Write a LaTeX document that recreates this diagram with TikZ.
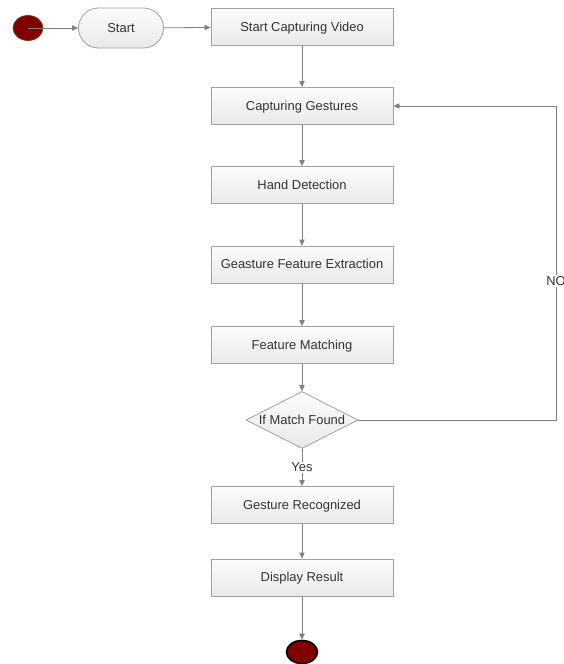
\documentclass[tikz,border=0pt]{standalone}
\usepackage{fontspec}
\setmainfont{Liberation Sans}
\usetikzlibrary{shapes.geometric,shapes.misc,arrows.meta}
\definecolor{boxedge}{HTML}{A0A0A0}
\definecolor{boxtop}{HTML}{FCFCFC}
\definecolor{boxbot}{HTML}{E9E9E9}
\definecolor{linegray}{HTML}{808080}
\definecolor{dot}{HTML}{800000}
\definecolor{txt}{HTML}{333333}
\tikzset{
  stepbox/.style={draw=boxedge, line width=0.6pt, top color=boxtop, bottom color=boxbot,
    minimum width=182*0.75pt, minimum height=37*0.75pt, inner sep=0pt,
    text height=7pt, text depth=1pt,
    font=\fontsize{9.7}{11}\selectfont, text=txt},
  termbox/.style={stepbox, rounded rectangle, minimum width=85*0.75pt, minimum height=40*0.75pt},
  decide/.style={draw=boxedge, line width=0.6pt, top color=boxtop, bottom color=boxbot,
    diamond, aspect=1.95, minimum width=112*0.75pt, minimum height=57*0.75pt, inner sep=0pt,
    text height=7pt, text depth=1pt,
    font=\fontsize{9.7}{11}\selectfont, text=txt},
  flow/.style={draw=linegray, line width=0.6pt, -{Triangle[length=4.5pt,width=4pt]}},
  lbl/.style={font=\fontsize{9.7}{11}\selectfont, text=txt, fill=white, inner sep=1pt}
}
\begin{document}
\begin{tikzpicture}[x=0.75pt,y=-0.75pt]
\useasboundingbox (0,0) rectangle (564,664);
% start and end markers
\node[ellipse, draw={rgb,255:red,110;green,70;blue,20}, line width=0.6pt, fill=dot,
  minimum width=30*0.75pt, minimum height=25*0.75pt, inner sep=0pt] (init) at (28,28) {};
\node[ellipse, draw=black, line width=1.2pt, fill=dot,
  minimum width=31*0.75pt, minimum height=23*0.75pt, inner sep=0pt] (final) at (302,652) {};
% flow steps
\node[termbox] (start) at (121,28) {Start};
\node[stepbox] (video) at (302,27) {Start Capturing Video};
\node[stepbox] (gest) at (302,106) {Capturing Gestures};
\node[stepbox] (hand) at (302,185) {Hand Detection};
\node[stepbox] (extr) at (302,264.5) {Geasture Feature Extraction};
\node[stepbox] (match) at (302,345) {Feature Matching};
\node[decide] (found) at (302,420) {If Match Found};
\node[stepbox] (recog) at (302,505) {Gesture Recognized};
\node[stepbox] (result) at (302,577.5) {Display Result};
\coordinate (loopB) at (556,420);
\coordinate (loopT) at (556,106);
% connectors
\draw[flow] (init.center) -- (start);
\draw[flow] (start) -- (video);
\draw[flow] (video) -- (gest);
\draw[flow] (gest) -- (hand);
\draw[flow] (hand) -- (extr);
\draw[flow] (extr) -- (match);
\draw[flow] (match) -- (found);
\draw[flow] (found) -- node[lbl, pos=0.5] {Yes} (recog);
\draw[flow] (recog) -- (result);
\draw[flow] (result) -- (final);
\draw[flow] (found.east) -- (loopB) -- node[lbl, pos=0.443] {NO} (loopT) -- (gest.east);
\end{tikzpicture}
\end{document}
